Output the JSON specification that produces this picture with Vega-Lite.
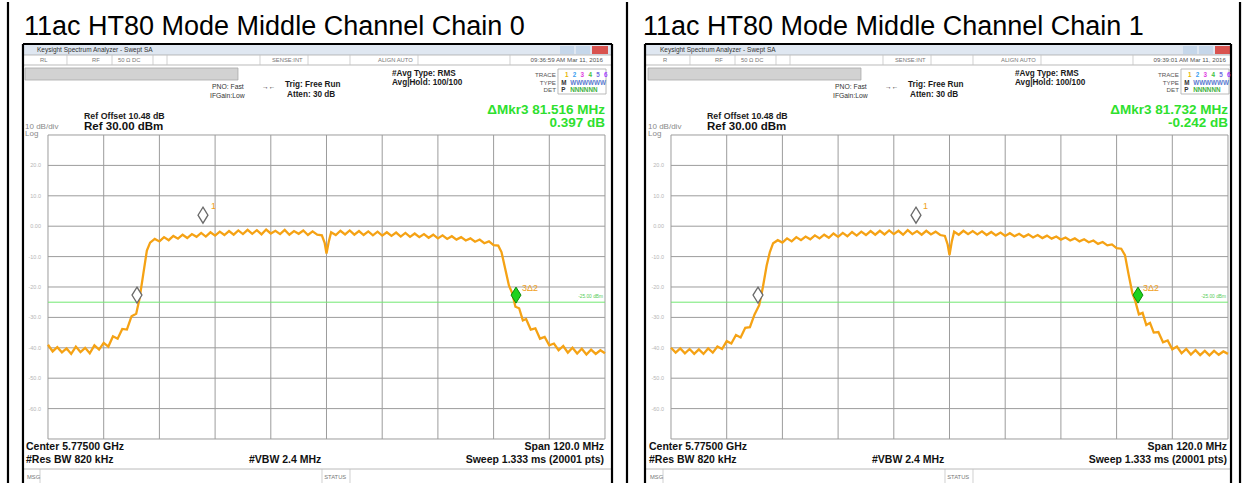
{
"$schema": "https://vega.github.io/schema/vega-lite/v6.json",
"padding": 0,
"spacing": 0,
"bounds": "flush",
"config": {"view": {"stroke": null}, "text": {"font": "Liberation Sans"}},
"data": {"values": [
{"p":"A","k":"tr","f":5715,"d":-39.0},{"p":"A","k":"tr","f":5716,"d":-41.2},{"p":"A","k":"tr","f":5717,"d":-39.8},{"p":"A","k":"tr","f":5718,"d":-41.5},{"p":"A","k":"tr","f":5719,"d":-40.2},{"p":"A","k":"tr","f":5720,"d":-42.0},{"p":"A","k":"tr","f":5721,"d":-39.6},{"p":"A","k":"tr","f":5722,"d":-41.4},{"p":"A","k":"tr","f":5723,"d":-40.0},{"p":"A","k":"tr","f":5724,"d":-41.8},{"p":"A","k":"tr","f":5725,"d":-39.2},{"p":"A","k":"tr","f":5726,"d":-40.6},{"p":"A","k":"tr","f":5727,"d":-38.4},{"p":"A","k":"tr","f":5728,"d":-39.6},{"p":"A","k":"tr","f":5729,"d":-36.2},{"p":"A","k":"tr","f":5730,"d":-37.0},{"p":"A","k":"tr","f":5731,"d":-33.8},{"p":"A","k":"tr","f":5732,"d":-34.0},{"p":"A","k":"tr","f":5733,"d":-29.6},{"p":"A","k":"tr","f":5734,"d":-28.8},{"p":"A","k":"tr","f":5734.7,"d":-24.0},{"p":"A","k":"tr","f":5735.5,"d":-16.0},{"p":"A","k":"tr","f":5736.3,"d":-8.0},{"p":"A","k":"tr","f":5737,"d":-5.4},{"p":"A","k":"tr","f":5738,"d":-4.2},{"p":"A","k":"tr","f":5739,"d":-5.0},{"p":"A","k":"tr","f":5740,"d":-3.6},{"p":"A","k":"tr","f":5741,"d":-4.6},{"p":"A","k":"tr","f":5742,"d":-3.2},{"p":"A","k":"tr","f":5743,"d":-4.1},{"p":"A","k":"tr","f":5744,"d":-2.8},{"p":"A","k":"tr","f":5745,"d":-3.9},{"p":"A","k":"tr","f":5746,"d":-2.6},{"p":"A","k":"tr","f":5747,"d":-3.5},{"p":"A","k":"tr","f":5748,"d":-2.2},{"p":"A","k":"tr","f":5749,"d":-3.4},{"p":"A","k":"tr","f":5750,"d":-2.0},{"p":"A","k":"tr","f":5751,"d":-3.1},{"p":"A","k":"tr","f":5752,"d":-1.8},{"p":"A","k":"tr","f":5753,"d":-2.9},{"p":"A","k":"tr","f":5754,"d":-1.6},{"p":"A","k":"tr","f":5755,"d":-2.8},{"p":"A","k":"tr","f":5756,"d":-1.4},{"p":"A","k":"tr","f":5757,"d":-2.6},{"p":"A","k":"tr","f":5758,"d":-1.2},{"p":"A","k":"tr","f":5759,"d":-2.5},{"p":"A","k":"tr","f":5760,"d":-1.3},{"p":"A","k":"tr","f":5761,"d":-2.7},{"p":"A","k":"tr","f":5762,"d":-1.1},{"p":"A","k":"tr","f":5763,"d":-2.4},{"p":"A","k":"tr","f":5764,"d":-1.5},{"p":"A","k":"tr","f":5765,"d":-2.6},{"p":"A","k":"tr","f":5766,"d":-1.2},{"p":"A","k":"tr","f":5767,"d":-2.8},{"p":"A","k":"tr","f":5768,"d":-1.6},{"p":"A","k":"tr","f":5769,"d":-2.5},{"p":"A","k":"tr","f":5770,"d":-1.4},{"p":"A","k":"tr","f":5771,"d":-2.9},{"p":"A","k":"tr","f":5772,"d":-1.7},{"p":"A","k":"tr","f":5773,"d":-2.8},{"p":"A","k":"tr","f":5774,"d":-3.0},{"p":"A","k":"tr","f":5774.6,"d":-5.5},{"p":"A","k":"tr","f":5775,"d":-9.0},{"p":"A","k":"tr","f":5775.5,"d":-5.0},{"p":"A","k":"tr","f":5776,"d":-2.0},{"p":"A","k":"tr","f":5777,"d":-2.9},{"p":"A","k":"tr","f":5778,"d":-1.5},{"p":"A","k":"tr","f":5779,"d":-2.7},{"p":"A","k":"tr","f":5780,"d":-1.4},{"p":"A","k":"tr","f":5781,"d":-2.8},{"p":"A","k":"tr","f":5782,"d":-1.6},{"p":"A","k":"tr","f":5783,"d":-2.9},{"p":"A","k":"tr","f":5784,"d":-1.7},{"p":"A","k":"tr","f":5785,"d":-3.0},{"p":"A","k":"tr","f":5786,"d":-1.8},{"p":"A","k":"tr","f":5787,"d":-3.1},{"p":"A","k":"tr","f":5788,"d":-2.0},{"p":"A","k":"tr","f":5789,"d":-3.2},{"p":"A","k":"tr","f":5790,"d":-2.1},{"p":"A","k":"tr","f":5791,"d":-3.4},{"p":"A","k":"tr","f":5792,"d":-2.2},{"p":"A","k":"tr","f":5793,"d":-3.5},{"p":"A","k":"tr","f":5794,"d":-2.4},{"p":"A","k":"tr","f":5795,"d":-3.6},{"p":"A","k":"tr","f":5796,"d":-2.6},{"p":"A","k":"tr","f":5797,"d":-3.8},{"p":"A","k":"tr","f":5798,"d":-2.8},{"p":"A","k":"tr","f":5799,"d":-4.0},{"p":"A","k":"tr","f":5800,"d":-3.0},{"p":"A","k":"tr","f":5801,"d":-4.2},{"p":"A","k":"tr","f":5802,"d":-3.3},{"p":"A","k":"tr","f":5803,"d":-4.4},{"p":"A","k":"tr","f":5804,"d":-3.6},{"p":"A","k":"tr","f":5805,"d":-4.7},{"p":"A","k":"tr","f":5806,"d":-4.0},{"p":"A","k":"tr","f":5807,"d":-5.1},{"p":"A","k":"tr","f":5808,"d":-4.4},{"p":"A","k":"tr","f":5809,"d":-5.6},{"p":"A","k":"tr","f":5810,"d":-5.0},{"p":"A","k":"tr","f":5811,"d":-6.2},{"p":"A","k":"tr","f":5812,"d":-6.4},{"p":"A","k":"tr","f":5812.7,"d":-8.5},{"p":"A","k":"tr","f":5813.5,"d":-14.0},{"p":"A","k":"tr","f":5814.3,"d":-19.5},{"p":"A","k":"tr","f":5815,"d":-22.0},{"p":"A","k":"tr","f":5815.7,"d":-26.5},{"p":"A","k":"tr","f":5816.5,"d":-27.0},{"p":"A","k":"tr","f":5817.3,"d":-31.0},{"p":"A","k":"tr","f":5818,"d":-30.5},{"p":"A","k":"tr","f":5819,"d":-34.0},{"p":"A","k":"tr","f":5820,"d":-33.6},{"p":"A","k":"tr","f":5821,"d":-37.0},{"p":"A","k":"tr","f":5822,"d":-36.4},{"p":"A","k":"tr","f":5823,"d":-39.2},{"p":"A","k":"tr","f":5824,"d":-38.6},{"p":"A","k":"tr","f":5825,"d":-40.8},{"p":"A","k":"tr","f":5826,"d":-39.4},{"p":"A","k":"tr","f":5827,"d":-41.6},{"p":"A","k":"tr","f":5828,"d":-40.0},{"p":"A","k":"tr","f":5829,"d":-41.9},{"p":"A","k":"tr","f":5830,"d":-40.3},{"p":"A","k":"tr","f":5831,"d":-42.2},{"p":"A","k":"tr","f":5832,"d":-40.6},{"p":"A","k":"tr","f":5833,"d":-42.0},{"p":"A","k":"tr","f":5834,"d":-40.8},{"p":"A","k":"tr","f":5835,"d":-41.8},
{"p":"B","k":"tr","f":5715,"d":-40.0},{"p":"B","k":"tr","f":5716,"d":-41.6},{"p":"B","k":"tr","f":5717,"d":-40.2},{"p":"B","k":"tr","f":5718,"d":-41.8},{"p":"B","k":"tr","f":5719,"d":-40.4},{"p":"B","k":"tr","f":5720,"d":-42.0},{"p":"B","k":"tr","f":5721,"d":-40.5},{"p":"B","k":"tr","f":5722,"d":-42.0},{"p":"B","k":"tr","f":5723,"d":-40.2},{"p":"B","k":"tr","f":5724,"d":-41.6},{"p":"B","k":"tr","f":5725,"d":-39.6},{"p":"B","k":"tr","f":5726,"d":-40.4},{"p":"B","k":"tr","f":5727,"d":-37.8},{"p":"B","k":"tr","f":5728,"d":-38.6},{"p":"B","k":"tr","f":5729,"d":-35.8},{"p":"B","k":"tr","f":5730,"d":-36.6},{"p":"B","k":"tr","f":5731,"d":-33.4},{"p":"B","k":"tr","f":5732,"d":-33.2},{"p":"B","k":"tr","f":5733,"d":-29.0},{"p":"B","k":"tr","f":5734,"d":-26.0},{"p":"B","k":"tr","f":5734.8,"d":-20.0},{"p":"B","k":"tr","f":5735.6,"d":-13.0},{"p":"B","k":"tr","f":5736.3,"d":-8.5},{"p":"B","k":"tr","f":5737,"d":-5.6},{"p":"B","k":"tr","f":5738,"d":-4.6},{"p":"B","k":"tr","f":5739,"d":-5.4},{"p":"B","k":"tr","f":5740,"d":-4.0},{"p":"B","k":"tr","f":5741,"d":-5.0},{"p":"B","k":"tr","f":5742,"d":-3.6},{"p":"B","k":"tr","f":5743,"d":-4.6},{"p":"B","k":"tr","f":5744,"d":-3.4},{"p":"B","k":"tr","f":5745,"d":-4.3},{"p":"B","k":"tr","f":5746,"d":-3.0},{"p":"B","k":"tr","f":5747,"d":-4.0},{"p":"B","k":"tr","f":5748,"d":-2.8},{"p":"B","k":"tr","f":5749,"d":-3.8},{"p":"B","k":"tr","f":5750,"d":-2.4},{"p":"B","k":"tr","f":5751,"d":-3.5},{"p":"B","k":"tr","f":5752,"d":-2.2},{"p":"B","k":"tr","f":5753,"d":-3.3},{"p":"B","k":"tr","f":5754,"d":-1.9},{"p":"B","k":"tr","f":5755,"d":-3.1},{"p":"B","k":"tr","f":5756,"d":-1.8},{"p":"B","k":"tr","f":5757,"d":-2.9},{"p":"B","k":"tr","f":5758,"d":-1.6},{"p":"B","k":"tr","f":5759,"d":-2.8},{"p":"B","k":"tr","f":5760,"d":-1.5},{"p":"B","k":"tr","f":5761,"d":-2.7},{"p":"B","k":"tr","f":5762,"d":-1.4},{"p":"B","k":"tr","f":5763,"d":-2.6},{"p":"B","k":"tr","f":5764,"d":-1.5},{"p":"B","k":"tr","f":5765,"d":-2.8},{"p":"B","k":"tr","f":5766,"d":-1.3},{"p":"B","k":"tr","f":5767,"d":-2.6},{"p":"B","k":"tr","f":5768,"d":-1.6},{"p":"B","k":"tr","f":5769,"d":-2.8},{"p":"B","k":"tr","f":5770,"d":-1.5},{"p":"B","k":"tr","f":5771,"d":-2.7},{"p":"B","k":"tr","f":5772,"d":-1.8},{"p":"B","k":"tr","f":5773,"d":-2.9},{"p":"B","k":"tr","f":5774,"d":-3.2},{"p":"B","k":"tr","f":5774.6,"d":-6.0},{"p":"B","k":"tr","f":5775,"d":-9.5},{"p":"B","k":"tr","f":5775.5,"d":-5.0},{"p":"B","k":"tr","f":5776,"d":-1.8},{"p":"B","k":"tr","f":5777,"d":-2.8},{"p":"B","k":"tr","f":5778,"d":-1.5},{"p":"B","k":"tr","f":5779,"d":-2.6},{"p":"B","k":"tr","f":5780,"d":-1.6},{"p":"B","k":"tr","f":5781,"d":-2.7},{"p":"B","k":"tr","f":5782,"d":-1.7},{"p":"B","k":"tr","f":5783,"d":-2.9},{"p":"B","k":"tr","f":5784,"d":-1.9},{"p":"B","k":"tr","f":5785,"d":-3.0},{"p":"B","k":"tr","f":5786,"d":-2.1},{"p":"B","k":"tr","f":5787,"d":-3.2},{"p":"B","k":"tr","f":5788,"d":-2.3},{"p":"B","k":"tr","f":5789,"d":-3.3},{"p":"B","k":"tr","f":5790,"d":-2.5},{"p":"B","k":"tr","f":5791,"d":-3.5},{"p":"B","k":"tr","f":5792,"d":-2.7},{"p":"B","k":"tr","f":5793,"d":-3.7},{"p":"B","k":"tr","f":5794,"d":-2.9},{"p":"B","k":"tr","f":5795,"d":-3.9},{"p":"B","k":"tr","f":5796,"d":-3.1},{"p":"B","k":"tr","f":5797,"d":-4.1},{"p":"B","k":"tr","f":5798,"d":-3.4},{"p":"B","k":"tr","f":5799,"d":-4.4},{"p":"B","k":"tr","f":5800,"d":-3.7},{"p":"B","k":"tr","f":5801,"d":-4.7},{"p":"B","k":"tr","f":5802,"d":-4.0},{"p":"B","k":"tr","f":5803,"d":-5.0},{"p":"B","k":"tr","f":5804,"d":-4.3},{"p":"B","k":"tr","f":5805,"d":-5.3},{"p":"B","k":"tr","f":5806,"d":-4.7},{"p":"B","k":"tr","f":5807,"d":-5.8},{"p":"B","k":"tr","f":5808,"d":-5.2},{"p":"B","k":"tr","f":5809,"d":-6.3},{"p":"B","k":"tr","f":5810,"d":-6.0},{"p":"B","k":"tr","f":5811,"d":-7.2},{"p":"B","k":"tr","f":5812,"d":-7.4},{"p":"B","k":"tr","f":5812.8,"d":-9.5},{"p":"B","k":"tr","f":5813.6,"d":-16.0},{"p":"B","k":"tr","f":5814.4,"d":-22.0},{"p":"B","k":"tr","f":5815,"d":-24.5},{"p":"B","k":"tr","f":5815.8,"d":-29.0},{"p":"B","k":"tr","f":5816.6,"d":-28.5},{"p":"B","k":"tr","f":5817.4,"d":-32.5},{"p":"B","k":"tr","f":5818.2,"d":-31.8},{"p":"B","k":"tr","f":5819,"d":-35.0},{"p":"B","k":"tr","f":5820,"d":-34.8},{"p":"B","k":"tr","f":5821,"d":-38.2},{"p":"B","k":"tr","f":5822,"d":-37.6},{"p":"B","k":"tr","f":5823,"d":-40.5},{"p":"B","k":"tr","f":5824,"d":-39.6},{"p":"B","k":"tr","f":5825,"d":-41.8},{"p":"B","k":"tr","f":5826,"d":-40.4},{"p":"B","k":"tr","f":5827,"d":-42.2},{"p":"B","k":"tr","f":5828,"d":-40.8},{"p":"B","k":"tr","f":5829,"d":-42.4},{"p":"B","k":"tr","f":5830,"d":-41.0},{"p":"B","k":"tr","f":5831,"d":-42.5},{"p":"B","k":"tr","f":5832,"d":-41.0},{"p":"B","k":"tr","f":5833,"d":-42.3},{"p":"B","k":"tr","f":5834,"d":-41.2},{"p":"B","k":"tr","f":5835,"d":-42.0},

{"p":"A","k":"ru","g":"gd","f":5715,"f2":5715,"d":30,"d2":-70},{"p":"A","k":"ru","g":"gd","f":5727,"f2":5727,"d":30,"d2":-70},{"p":"A","k":"ru","g":"gd","f":5739,"f2":5739,"d":30,"d2":-70},{"p":"A","k":"ru","g":"gd","f":5751,"f2":5751,"d":30,"d2":-70},{"p":"A","k":"ru","g":"gd","f":5763,"f2":5763,"d":30,"d2":-70},{"p":"A","k":"ru","g":"gd","f":5775,"f2":5775,"d":30,"d2":-70},{"p":"A","k":"ru","g":"gd","f":5787,"f2":5787,"d":30,"d2":-70},{"p":"A","k":"ru","g":"gd","f":5799,"f2":5799,"d":30,"d2":-70},{"p":"A","k":"ru","g":"gd","f":5811,"f2":5811,"d":30,"d2":-70},{"p":"A","k":"ru","g":"gd","f":5823,"f2":5823,"d":30,"d2":-70},{"p":"A","k":"ru","g":"gd","f":5835,"f2":5835,"d":30,"d2":-70},
{"p":"A","k":"ru","g":"gd","f":5715,"f2":5835,"d":30,"d2":30},{"p":"A","k":"ru","g":"gd","f":5715,"f2":5835,"d":20,"d2":20},{"p":"A","k":"ru","g":"gd","f":5715,"f2":5835,"d":10,"d2":10},{"p":"A","k":"ru","g":"gd","f":5715,"f2":5835,"d":0,"d2":0},{"p":"A","k":"ru","g":"gd","f":5715,"f2":5835,"d":-10,"d2":-10},{"p":"A","k":"ru","g":"gd","f":5715,"f2":5835,"d":-20,"d2":-20},{"p":"A","k":"ru","g":"gd","f":5715,"f2":5835,"d":-30,"d2":-30},{"p":"A","k":"ru","g":"gd","f":5715,"f2":5835,"d":-40,"d2":-40},{"p":"A","k":"ru","g":"gd","f":5715,"f2":5835,"d":-50,"d2":-50},{"p":"A","k":"ru","g":"gd","f":5715,"f2":5835,"d":-60,"d2":-60},{"p":"A","k":"ru","g":"gd","f":5715,"f2":5835,"d":-70,"d2":-70},
{"p":"B","k":"ru","g":"gd","f":5715,"f2":5715,"d":30,"d2":-70},{"p":"B","k":"ru","g":"gd","f":5727,"f2":5727,"d":30,"d2":-70},{"p":"B","k":"ru","g":"gd","f":5739,"f2":5739,"d":30,"d2":-70},{"p":"B","k":"ru","g":"gd","f":5751,"f2":5751,"d":30,"d2":-70},{"p":"B","k":"ru","g":"gd","f":5763,"f2":5763,"d":30,"d2":-70},{"p":"B","k":"ru","g":"gd","f":5775,"f2":5775,"d":30,"d2":-70},{"p":"B","k":"ru","g":"gd","f":5787,"f2":5787,"d":30,"d2":-70},{"p":"B","k":"ru","g":"gd","f":5799,"f2":5799,"d":30,"d2":-70},{"p":"B","k":"ru","g":"gd","f":5811,"f2":5811,"d":30,"d2":-70},{"p":"B","k":"ru","g":"gd","f":5823,"f2":5823,"d":30,"d2":-70},{"p":"B","k":"ru","g":"gd","f":5835,"f2":5835,"d":30,"d2":-70},
{"p":"B","k":"ru","g":"gd","f":5715,"f2":5835,"d":30,"d2":30},{"p":"B","k":"ru","g":"gd","f":5715,"f2":5835,"d":20,"d2":20},{"p":"B","k":"ru","g":"gd","f":5715,"f2":5835,"d":10,"d2":10},{"p":"B","k":"ru","g":"gd","f":5715,"f2":5835,"d":0,"d2":0},{"p":"B","k":"ru","g":"gd","f":5715,"f2":5835,"d":-10,"d2":-10},{"p":"B","k":"ru","g":"gd","f":5715,"f2":5835,"d":-20,"d2":-20},{"p":"B","k":"ru","g":"gd","f":5715,"f2":5835,"d":-30,"d2":-30},{"p":"B","k":"ru","g":"gd","f":5715,"f2":5835,"d":-40,"d2":-40},{"p":"B","k":"ru","g":"gd","f":5715,"f2":5835,"d":-50,"d2":-50},{"p":"B","k":"ru","g":"gd","f":5715,"f2":5835,"d":-60,"d2":-60},{"p":"B","k":"ru","g":"gd","f":5715,"f2":5835,"d":-70,"d2":-70},

{"p":"A","k":"ru","g":"dl","f":5715,"f2":5835,"d":-25,"d2":-25},{"p":"B","k":"ru","g":"dl","f":5715,"f2":5835,"d":-25,"d2":-25},

{"p":"A","k":"ru","g":"fr","f":5709.61,"f2":5709.61,"d":59.93,"d2":-85.13},{"p":"A","k":"ru","g":"fr","f":5709.61,"f2":5836.51,"d":59.93,"d2":59.93},{"p":"A","k":"ru","g":"fr","f":5836.51,"f2":5836.51,"d":59.93,"d2":-85.13},{"p":"A","k":"ru","g":"fr","f":5706.38,"f2":5706.38,"d":73.75,"d2":-85.13},
{"p":"B","k":"ru","g":"fr","f":5709.40,"f2":5709.40,"d":59.93,"d2":-85.13},{"p":"B","k":"ru","g":"fr","f":5709.40,"f2":5835.65,"d":59.93,"d2":59.93},{"p":"B","k":"ru","g":"fr","f":5835.65,"f2":5835.65,"d":59.93,"d2":-85.13},{"p":"B","k":"ru","g":"fr","f":5705.52,"f2":5705.52,"d":73.75,"d2":-85.13},{"p":"B","k":"ru","g":"fr","f":5837.59,"f2":5837.59,"d":73.75,"d2":-85.13},

{"p":"A","k":"ru","g":"sp","f":5719.09,"f2":5719.09,"d":56.32,"d2":53.03},{"p":"A","k":"ru","g":"sp","f":5728.79,"f2":5728.79,"d":56.32,"d2":53.03},{"p":"A","k":"ru","g":"sp","f":5737.62,"f2":5737.62,"d":56.32,"d2":53.03},{"p":"A","k":"ru","g":"sp","f":5740.64,"f2":5740.64,"d":56.32,"d2":53.03},{"p":"A","k":"ru","g":"sp","f":5760.67,"f2":5760.67,"d":56.32,"d2":53.03},{"p":"A","k":"ru","g":"sp","f":5771.02,"f2":5771.02,"d":56.32,"d2":53.03},{"p":"A","k":"ru","g":"sp","f":5780.06,"f2":5780.06,"d":56.32,"d2":53.03},{"p":"A","k":"ru","g":"sp","f":5794.71,"f2":5794.71,"d":56.32,"d2":53.03},{"p":"A","k":"ru","g":"sp","f":5814.53,"f2":5814.53,"d":56.32,"d2":53.03},{"p":"A","k":"ru","g":"sp","f":5713.28,"f2":5713.28,"d":-79.87,"d2":-85.13},{"p":"A","k":"ru","g":"sp","f":5774.03,"f2":5774.03,"d":-79.87,"d2":-85.13},{"p":"A","k":"ru","g":"sp","f":5780.06,"f2":5780.06,"d":-79.87,"d2":-85.13},
{"p":"B","k":"ru","g":"sp","f":5719.09,"f2":5719.09,"d":56.32,"d2":53.03},{"p":"B","k":"ru","g":"sp","f":5728.79,"f2":5728.79,"d":56.32,"d2":53.03},{"p":"B","k":"ru","g":"sp","f":5737.62,"f2":5737.62,"d":56.32,"d2":53.03},{"p":"B","k":"ru","g":"sp","f":5740.64,"f2":5740.64,"d":56.32,"d2":53.03},{"p":"B","k":"ru","g":"sp","f":5760.67,"f2":5760.67,"d":56.32,"d2":53.03},{"p":"B","k":"ru","g":"sp","f":5771.02,"f2":5771.02,"d":56.32,"d2":53.03},{"p":"B","k":"ru","g":"sp","f":5780.06,"f2":5780.06,"d":56.32,"d2":53.03},{"p":"B","k":"ru","g":"sp","f":5794.71,"f2":5794.71,"d":56.32,"d2":53.03},{"p":"B","k":"ru","g":"sp","f":5814.53,"f2":5814.53,"d":56.32,"d2":53.03},{"p":"B","k":"ru","g":"sp","f":5713.28,"f2":5713.28,"d":-79.87,"d2":-85.13},{"p":"B","k":"ru","g":"sp","f":5774.03,"f2":5774.03,"d":-79.87,"d2":-85.13},{"p":"B","k":"ru","g":"sp","f":5780.06,"f2":5780.06,"d":-79.87,"d2":-85.13},

{"p":"A","k":"rc","g":"tb","f":5709.61,"f2":5836.51,"d":59.61,"d2":56.32},{"p":"A","k":"rc","g":"lxi","f":5710.05,"f2":5711.77,"d":55.99,"d2":53.36},{"p":"A","k":"rc","g":"btn","f":5825.30,"f2":5828.32,"d":59.28,"d2":56.64},{"p":"A","k":"rc","g":"btn","f":5828.75,"f2":5831.77,"d":59.28,"d2":56.64},{"p":"A","k":"rc","g":"cls","f":5832.20,"f2":5835.65,"d":59.28,"d2":56.64},
{"p":"B","k":"rc","g":"tb","f":5709.40,"f2":5835.65,"d":59.61,"d2":56.32},{"p":"B","k":"rc","g":"lxi","f":5710.05,"f2":5711.77,"d":55.99,"d2":53.36},{"p":"B","k":"rc","g":"btn","f":5825.30,"f2":5828.32,"d":59.28,"d2":56.64},{"p":"B","k":"rc","g":"btn","f":5828.75,"f2":5831.77,"d":59.28,"d2":56.64},{"p":"B","k":"rc","g":"cls","f":5832.20,"f2":5835.65,"d":59.28,"d2":56.64},
{"p":"A","k":"rs","g":"sr","f":5709.61,"f2":5836.51,"d":56.32,"d2":53.03},{"p":"A","k":"rs","g":"gb","f":5710.05,"f2":5755.93,"d":52.04,"d2":48.09},{"p":"A","k":"rs","g":"msg","f":5709.61,"f2":5836.51,"d":-79.87,"d2":-85.13},{"p":"A","k":"rs","g":"trb","f":5824.87,"f2":5835.22,"d":51.71,"d2":43.49},
{"p":"B","k":"rs","g":"sr","f":5709.40,"f2":5835.65,"d":56.32,"d2":53.03},{"p":"B","k":"rs","g":"gb","f":5710.05,"f2":5755.93,"d":52.04,"d2":48.09},{"p":"B","k":"rs","g":"msg","f":5709.40,"f2":5835.65,"d":-79.87,"d2":-85.13},{"p":"B","k":"rs","g":"trb","f":5824.87,"f2":5835.22,"d":51.71,"d2":43.49},

{"p":"A","k":"mk","g":"o","f":5748.39,"d":1.0},{"p":"A","k":"mk","g":"o","f":5734.17,"d":-25.3},{"p":"A","k":"mk","g":"gm","f":5815.83,"d":-25.3},
{"p":"B","k":"mk","g":"o","f":5767.78,"d":1.0},{"p":"B","k":"mk","g":"o","f":5733.74,"d":-25.3},{"p":"B","k":"mk","g":"gm","f":5815.61,"d":-25.3},

{"p":"A","k":"tx","g":"ti","f":5709.83,"d":62.9,"t":"11ac HT80 Mode Middle Channel Chain 0"},
{"p":"B","k":"tx","g":"ti","f":5708.97,"d":62.9,"t":"11ac HT80 Mode Middle Channel Chain 1"},
{"p":"A","k":"tx","g":"wt","f":5712.63,"d":57.96,"t":"Keysight Spectrum Analyzer - Swept SA"},
{"p":"B","k":"tx","g":"wt","f":5712.63,"d":57.96,"t":"Keysight Spectrum Analyzer - Swept SA"},
{"p":"A","k":"tx","g":"st","f":5713.28,"d":54.67,"t":"RL"},{"p":"A","k":"tx","g":"st","f":5724.48,"d":54.67,"t":"RF"},{"p":"A","k":"tx","g":"st","f":5730.08,"d":54.67,"t":"50 Ω   DC"},{"p":"A","k":"tx","g":"st","f":5763.26,"d":54.67,"t":"SENSE:INT"},{"p":"A","k":"tx","g":"st","f":5786.10,"d":54.67,"t":"ALIGN AUTO"},{"p":"A","k":"tx","g":"st","f":5710.48,"d":-82.5,"t":"MSG"},{"p":"A","k":"tx","g":"st","f":5774.5,"d":-82.5,"t":"STATUS"},
{"p":"B","k":"tx","g":"st","f":5713.28,"d":54.67,"t":"R"},{"p":"B","k":"tx","g":"st","f":5724.48,"d":54.67,"t":"RF"},{"p":"B","k":"tx","g":"st","f":5730.08,"d":54.67,"t":"50 Ω   DC"},{"p":"B","k":"tx","g":"st","f":5763.26,"d":54.67,"t":"SENSE:INT"},{"p":"B","k":"tx","g":"st","f":5786.10,"d":54.67,"t":"ALIGN AUTO"},{"p":"B","k":"tx","g":"st","f":5710.48,"d":-82.5,"t":"MSG"},{"p":"B","k":"tx","g":"st","f":5774.5,"d":-82.5,"t":"STATUS"},
{"p":"A","k":"tx","g":"sr2","f":5834.57,"d":54.67,"t":"09:36:59 AM Mar 11, 2016"},{"p":"A","k":"tx","g":"sr2","f":5824.44,"d":49.74,"t":"TRACE"},{"p":"A","k":"tx","g":"sr2","f":5824.44,"d":47.1,"t":"TYPE"},{"p":"A","k":"tx","g":"sr2","f":5824.44,"d":44.8,"t":"DET"},
{"p":"B","k":"tx","g":"sr2","f":5834.57,"d":54.67,"t":"09:39:01 AM Mar 11, 2016"},{"p":"B","k":"tx","g":"sr2","f":5824.44,"d":49.74,"t":"TRACE"},{"p":"B","k":"tx","g":"sr2","f":5824.44,"d":47.1,"t":"TYPE"},{"p":"B","k":"tx","g":"sr2","f":5824.44,"d":44.8,"t":"DET"},
{"p":"A","k":"tx","g":"dg","f":5826.38,"d":49.74,"t":"1"},{"p":"A","k":"tx","g":"dg","f":5828.06,"d":49.74,"t":"2"},{"p":"A","k":"tx","g":"dg","f":5829.74,"d":49.74,"t":"3"},{"p":"A","k":"tx","g":"dg","f":5831.42,"d":49.74,"t":"4"},{"p":"A","k":"tx","g":"dg","f":5833.10,"d":49.74,"t":"5"},{"p":"A","k":"tx","g":"dg","f":5834.78,"d":49.74,"t":"6"},{"p":"A","k":"tx","g":"dg","f":5825.6,"d":47.1,"t":"M"},{"p":"A","k":"tx","g":"dg","f":5827.5,"d":47.1,"t":"WWWWWW"},{"p":"A","k":"tx","g":"dg","f":5825.6,"d":44.8,"t":"P"},{"p":"A","k":"tx","g":"dg","f":5827.5,"d":44.8,"t":"NNNNNN"},
{"p":"B","k":"tx","g":"dg","f":5826.38,"d":49.74,"t":"1"},{"p":"B","k":"tx","g":"dg","f":5828.06,"d":49.74,"t":"2"},{"p":"B","k":"tx","g":"dg","f":5829.74,"d":49.74,"t":"3"},{"p":"B","k":"tx","g":"dg","f":5831.42,"d":49.74,"t":"4"},{"p":"B","k":"tx","g":"dg","f":5833.10,"d":49.74,"t":"5"},{"p":"B","k":"tx","g":"dg","f":5834.78,"d":49.74,"t":"6"},{"p":"B","k":"tx","g":"dg","f":5825.6,"d":47.1,"t":"M"},{"p":"B","k":"tx","g":"dg","f":5827.5,"d":47.1,"t":"WWWWWW"},{"p":"B","k":"tx","g":"dg","f":5825.6,"d":44.8,"t":"P"},{"p":"B","k":"tx","g":"dg","f":5827.5,"d":44.8,"t":"NNNNNN"},
{"p":"A","k":"tx","g":"hb","f":5789.11,"d":50.07,"t":"#Avg Type: RMS"},{"p":"A","k":"tx","g":"hb","f":5789.11,"d":47.1,"t":"Avg|Hold: 100/100"},{"p":"A","k":"tx","g":"hb","f":5766.06,"d":46.45,"t":"Trig: Free Run"},{"p":"A","k":"tx","g":"hb","f":5766.49,"d":43.16,"t":"Atten: 30 dB"},
{"p":"B","k":"tx","g":"hb","f":5789.11,"d":50.07,"t":"#Avg Type: RMS"},{"p":"B","k":"tx","g":"hb","f":5789.11,"d":47.1,"t":"Avg|Hold: 100/100"},{"p":"B","k":"tx","g":"hb","f":5766.06,"d":46.45,"t":"Trig: Free Run"},{"p":"B","k":"tx","g":"hb","f":5766.49,"d":43.16,"t":"Atten: 30 dB"},
{"p":"A","k":"tx","g":"hn","f":5750.33,"d":45.79,"t":"PNO: Fast"},{"p":"A","k":"tx","g":"hn","f":5749.90,"d":42.83,"t":"IFGain:Low"},{"p":"A","k":"tx","g":"hn","f":5761.10,"d":45.79,"t":"→←"},
{"p":"B","k":"tx","g":"hn","f":5750.33,"d":45.79,"t":"PNO: Fast"},{"p":"B","k":"tx","g":"hn","f":5749.90,"d":42.83,"t":"IFGain:Low"},{"p":"B","k":"tx","g":"hn","f":5761.10,"d":45.79,"t":"→←"},
{"p":"A","k":"tx","g":"ro","f":5722.76,"d":36.25,"t":"Ref Offset 10.48 dB"},{"p":"B","k":"tx","g":"ro","f":5722.76,"d":36.25,"t":"Ref Offset 10.48 dB"},
{"p":"A","k":"tx","g":"rf","f":5722.76,"d":32.63,"t":"Ref 30.00 dBm"},{"p":"B","k":"tx","g":"rf","f":5722.76,"d":32.63,"t":"Ref 30.00 dBm"},
{"p":"A","k":"tx","g":"gy","f":5710.05,"d":32.63,"t":"10 dB/div"},{"p":"A","k":"tx","g":"gy","f":5710.05,"d":30.33,"t":"Log"},
{"p":"B","k":"tx","g":"gy","f":5710.05,"d":32.63,"t":"10 dB/div"},{"p":"B","k":"tx","g":"gy","f":5710.05,"d":30.33,"t":"Log"},
{"p":"A","k":"tx","g":"gr","f":5835.0,"d":38.22,"t":"ΔMkr3 81.516 MHz"},{"p":"A","k":"tx","g":"gr","f":5835.0,"d":33.95,"t":"0.397 dB"},
{"p":"B","k":"tx","g":"gr","f":5835.0,"d":38.22,"t":"ΔMkr3 81.732 MHz"},{"p":"B","k":"tx","g":"gr","f":5835.0,"d":33.95,"t":"-0.242 dB"},
{"p":"A","k":"tx","g":"bt","f":5710.26,"d":-72.63,"t":"Center 5.77500 GHz"},{"p":"A","k":"tx","g":"bt","f":5710.26,"d":-76.91,"t":"#Res BW 820 kHz"},{"p":"A","k":"tx","g":"bt","f":5758.30,"d":-76.91,"t":"#VBW 2.4 MHz"},
{"p":"B","k":"tx","g":"bt","f":5710.26,"d":-72.63,"t":"Center 5.77500 GHz"},{"p":"B","k":"tx","g":"bt","f":5710.26,"d":-76.91,"t":"#Res BW 820 kHz"},{"p":"B","k":"tx","g":"bt","f":5758.30,"d":-76.91,"t":"#VBW 2.4 MHz"},
{"p":"A","k":"tx","g":"br","f":5834.78,"d":-72.63,"t":"Span 120.0 MHz"},{"p":"A","k":"tx","g":"br","f":5834.78,"d":-76.91,"t":"Sweep  1.333 ms (20001 pts)"},
{"p":"B","k":"tx","g":"br","f":5834.78,"d":-72.63,"t":"Span 120.0 MHz"},{"p":"B","k":"tx","g":"br","f":5834.78,"d":-76.91,"t":"Sweep  1.333 ms (20001 pts)"},
{"p":"A","k":"tx","g":"yl","f":5713.49,"d":20,"t":"20.0"},{"p":"A","k":"tx","g":"yl","f":5713.49,"d":10,"t":"10.0"},{"p":"A","k":"tx","g":"yl","f":5713.49,"d":0,"t":"0.00"},{"p":"A","k":"tx","g":"yl","f":5713.49,"d":-10,"t":"-10.0"},{"p":"A","k":"tx","g":"yl","f":5713.49,"d":-20,"t":"-20.0"},{"p":"A","k":"tx","g":"yl","f":5713.49,"d":-30,"t":"-30.0"},{"p":"A","k":"tx","g":"yl","f":5713.49,"d":-40,"t":"-40.0"},{"p":"A","k":"tx","g":"yl","f":5713.49,"d":-50,"t":"-50.0"},{"p":"A","k":"tx","g":"yl","f":5713.49,"d":-60,"t":"-60.0"},
{"p":"B","k":"tx","g":"yl","f":5713.49,"d":20,"t":"20.0"},{"p":"B","k":"tx","g":"yl","f":5713.49,"d":10,"t":"10.0"},{"p":"B","k":"tx","g":"yl","f":5713.49,"d":0,"t":"0.00"},{"p":"B","k":"tx","g":"yl","f":5713.49,"d":-10,"t":"-10.0"},{"p":"B","k":"tx","g":"yl","f":5713.49,"d":-20,"t":"-20.0"},{"p":"B","k":"tx","g":"yl","f":5713.49,"d":-30,"t":"-30.0"},{"p":"B","k":"tx","g":"yl","f":5713.49,"d":-40,"t":"-40.0"},{"p":"B","k":"tx","g":"yl","f":5713.49,"d":-50,"t":"-50.0"},{"p":"B","k":"tx","g":"yl","f":5713.49,"d":-60,"t":"-60.0"},
{"p":"A","k":"tx","g":"ml","f":5750.12,"d":6.65,"t":"1"},{"p":"A","k":"tx","g":"ml","f":5817.12,"d":-20.33,"t":"3Δ2"},
{"p":"B","k":"tx","g":"ml","f":5769.29,"d":6.65,"t":"1"},{"p":"B","k":"tx","g":"ml","f":5816.69,"d":-20.33,"t":"3Δ2"},
{"p":"A","k":"tx","g":"dll","f":5834.57,"d":-23.29,"t":"-25.00 dBm"},{"p":"B","k":"tx","g":"dll","f":5834.57,"d":-23.29,"t":"-25.00 dBm"}
]},
"facet": {"column": {"field": "p", "type": "nominal", "header": null}},
"spec": {
"width": 623,
"height": 483,
"encoding": {
"x": {"field": "f", "type": "quantitative", "scale": {"domain": [5704.659, 5838.878], "nice": false, "zero": false}, "axis": null},
"y": {"field": "d", "type": "quantitative", "scale": {"domain": [-85.132, 73.75], "nice": false, "zero": false}, "axis": null}
},
"layer": [
{"transform": [{"filter": "datum.k=='rc'"}], "mark": {"type": "rect"},
 "encoding": {"x2": {"field": "f2"}, "y2": {"field": "d2"},
  "fill": {"field": "g", "type": "nominal", "legend": null, "scale": {"domain": ["tb","lxi","btn","cls","sr","gb","msg","trb"], "range": ["#dfe7f1","#2ee62e","#c6d7ea","#d9534f","#ffffff","#d2d2d2","#ffffff","#ffffff"]}}}},
{"transform": [{"filter": "datum.k=='rs'"}], "mark": {"type": "rect", "stroke": "#a8a8a8", "strokeWidth": 0.8},
 "encoding": {"x2": {"field": "f2"}, "y2": {"field": "d2"},
  "fill": {"field": "g", "type": "nominal", "legend": null, "scale": {"domain": ["tb","lxi","btn","cls","sr","gb","msg","trb"], "range": ["#dfe7f1","#2ee62e","#c6d7ea","#d9534f","#ffffff","#d2d2d2","#ffffff","#ffffff"]}}}},
{"transform": [{"filter": "datum.k=='ru' && datum.g=='sp'"}], "mark": {"type": "rule", "color": "#c4c4c4", "strokeWidth": 0.8},
 "encoding": {"x2": {"field": "f2"}, "y2": {"field": "d2"}}},
{"transform": [{"filter": "datum.k=='ru' && datum.g=='gd'"}], "mark": {"type": "rule", "color": "#9c9c9c", "strokeWidth": 1},
 "encoding": {"x2": {"field": "f2"}, "y2": {"field": "d2"}}},
{"transform": [{"filter": "datum.k=='ru' && datum.g=='dl'"}], "mark": {"type": "rule", "color": "#72e872", "strokeWidth": 1},
 "encoding": {"x2": {"field": "f2"}, "y2": {"field": "d2"}}},
{"transform": [{"filter": "datum.k=='tr'"}], "mark": {"type": "line", "color": "#f5a214", "strokeWidth": 2.3, "strokeJoin": "miter"}},
{"transform": [{"filter": "datum.k=='mk' && datum.g=='o'"}], "mark": {"type": "point", "shape": "M0,-1L0.62,0L0,1L-0.62,0Z", "size": 256, "filled": true, "fill": "#ffffff", "stroke": "#6a6a6a", "strokeWidth": 1.3, "opacity": 1, "yOffset": -8}},
{"transform": [{"filter": "datum.k=='mk' && datum.g=='gm'"}], "mark": {"type": "point", "shape": "M0,-1L0.62,0L0,1L-0.62,0Z", "size": 256, "filled": true, "fill": "#1ed21e", "stroke": "#0a8a0a", "strokeWidth": 1, "opacity": 1, "yOffset": -8}},
{"transform": [{"filter": "datum.k=='ru' && datum.g=='fr'"}], "mark": {"type": "rule", "color": "#000000", "strokeWidth": 2.2},
 "encoding": {"x2": {"field": "f2"}, "y2": {"field": "d2"}}},
{"transform": [{"filter": "datum.g=='ti'"}], "mark": {"type": "text", "align": "left", "baseline": "alphabetic", "fontSize": 27, "color": "#000000"}, "encoding": {"text": {"field": "t"}}},
{"transform": [{"filter": "datum.g=='wt'"}], "mark": {"type": "text", "align": "left", "baseline": "middle", "fontSize": 6.5, "color": "#333333"}, "encoding": {"text": {"field": "t"}}},
{"transform": [{"filter": "datum.g=='st'"}], "mark": {"type": "text", "align": "left", "baseline": "middle", "fontSize": 5.8, "color": "#777777"}, "encoding": {"text": {"field": "t"}}},
{"transform": [{"filter": "datum.g=='sr2'"}], "mark": {"type": "text", "align": "right", "baseline": "middle", "fontSize": 6.2, "color": "#555555"}, "encoding": {"text": {"field": "t"}}},
{"transform": [{"filter": "datum.g=='dg'"}], "mark": {"type": "text", "align": "left", "baseline": "middle", "fontSize": 6.3, "fontWeight": "bold"},
 "encoding": {"text": {"field": "t"}, "color": {"field": "t", "type": "nominal", "legend": null, "scale": {"domain": ["1","2","3","4","5","6","M","P","WWWWWW","NNNNNN"], "range": ["#e6b400","#3aa0f0","#e040e0","#40c040","#7070e0","#a040ff","#333333","#333333","#5a7ad0","#40b040"]}}}},
{"transform": [{"filter": "datum.g=='hb'"}], "mark": {"type": "text", "align": "left", "baseline": "middle", "fontSize": 8.2, "fontWeight": "bold", "color": "#1a1a1a"}, "encoding": {"text": {"field": "t"}}},
{"transform": [{"filter": "datum.g=='hn'"}], "mark": {"type": "text", "align": "left", "baseline": "middle", "fontSize": 6.8, "color": "#333333"}, "encoding": {"text": {"field": "t"}}},
{"transform": [{"filter": "datum.g=='ro'"}], "mark": {"type": "text", "align": "left", "baseline": "middle", "fontSize": 8.8, "fontWeight": "bold", "color": "#1a1a1a"}, "encoding": {"text": {"field": "t"}}},
{"transform": [{"filter": "datum.g=='rf'"}], "mark": {"type": "text", "align": "left", "baseline": "middle", "fontSize": 11.5, "fontWeight": "bold", "color": "#111111"}, "encoding": {"text": {"field": "t"}}},
{"transform": [{"filter": "datum.g=='gy'"}], "mark": {"type": "text", "align": "left", "baseline": "middle", "fontSize": 8, "color": "#8a8a8a"}, "encoding": {"text": {"field": "t"}}},
{"transform": [{"filter": "datum.g=='gr'"}], "mark": {"type": "text", "align": "right", "baseline": "middle", "fontSize": 13.5, "fontWeight": "bold", "color": "#2ee02e"}, "encoding": {"text": {"field": "t"}}},
{"transform": [{"filter": "datum.g=='bt'"}], "mark": {"type": "text", "align": "left", "baseline": "middle", "fontSize": 10.5, "fontWeight": "bold", "color": "#111111"}, "encoding": {"text": {"field": "t"}}},
{"transform": [{"filter": "datum.g=='br'"}], "mark": {"type": "text", "align": "right", "baseline": "middle", "fontSize": 10.5, "fontWeight": "bold", "color": "#111111"}, "encoding": {"text": {"field": "t"}}},
{"transform": [{"filter": "datum.g=='yl'"}], "mark": {"type": "text", "align": "right", "baseline": "middle", "fontSize": 5.5, "color": "#b5b5b5"}, "encoding": {"text": {"field": "t"}}},
{"transform": [{"filter": "datum.g=='ml'"}], "mark": {"type": "text", "align": "left", "baseline": "middle", "fontSize": 9, "color": "#f0a020"}, "encoding": {"text": {"field": "t"}}},
{"transform": [{"filter": "datum.g=='dll'"}], "mark": {"type": "text", "align": "right", "baseline": "middle", "fontSize": 4.8, "color": "#55cc55"}, "encoding": {"text": {"field": "t"}}}
]
}
}
